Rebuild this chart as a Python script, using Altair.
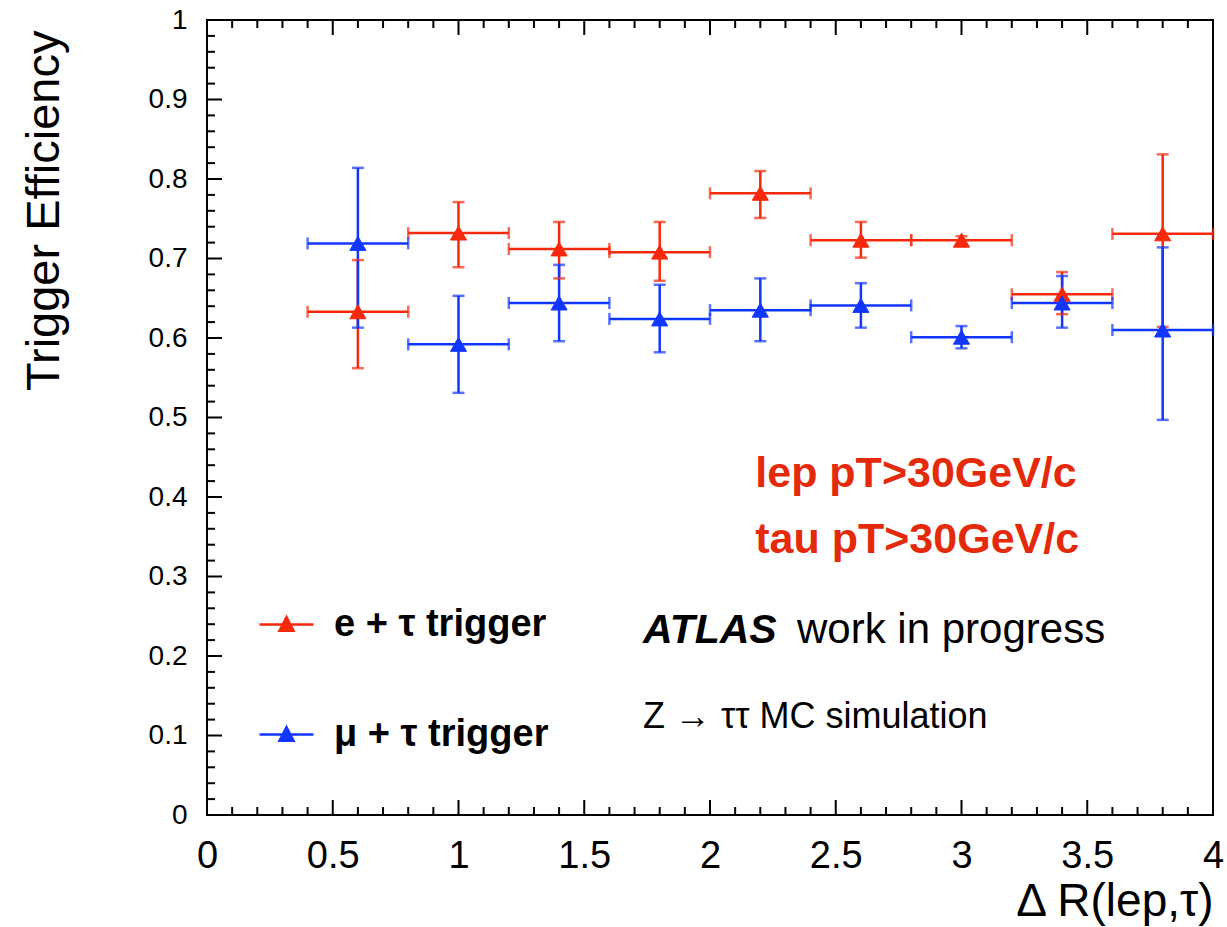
import altair as alt
import pandas as pd

# ---------------- data ----------------
series_names = ["e + τ trigger", "μ + τ trigger"]
bin_centers = [0.6, 1.0, 1.4, 1.8, 2.2, 2.6, 3.0, 3.4, 3.8]
bin_half = [0.2, 0.2, 0.2, 0.2, 0.2, 0.2, 0.2, 0.2, 0.2]

e_eff = [0.633, 0.732, 0.712, 0.708, 0.782, 0.723, 0.723, 0.655, 0.731]
e_hi = [0.698, 0.771, 0.746, 0.746, 0.810, 0.746, 0.728, 0.683, 0.831]
e_lo = [0.562, 0.689, 0.675, 0.672, 0.751, 0.701, 0.718, 0.630, 0.614]

mu_eff = [0.719, 0.592, 0.644, 0.624, 0.635, 0.641, 0.601, 0.644, 0.610]
mu_hi = [0.814, 0.653, 0.692, 0.667, 0.675, 0.669, 0.615, 0.678, 0.714]
mu_lo = [0.613, 0.531, 0.596, 0.582, 0.596, 0.613, 0.587, 0.613, 0.497]

x_tick_labels = [0, 0.5, 1, 1.5, 2, 2.5, 3, 3.5, 4]
y_tick_labels = [0, 0.1, 0.2, 0.3, 0.4, 0.5, 0.6, 0.7, 0.8, 0.9, 1]
x_minor = [v / 10 for v in range(0, 41) if v % 5 != 0]
y_minor = [v / 50 for v in range(0, 51) if v % 5 != 0]

annot_red = ["lep pT>30GeV/c", "tau pT>30GeV/c"]
annot_red_x = [2.18, 2.18]
annot_red_y = [0.4126, 0.3296]

RED = "#f7290c"
BLUE = "#1136ff"
TEXT_RED = "#e42a0a"
FONT = "Liberation Sans"

W, H = 1006, 795

# ---------------- tables ----------------
rows = []
for name, eff, hi, lo in [(series_names[0], e_eff, e_hi, e_lo),
                          (series_names[1], mu_eff, mu_hi, mu_lo)]:
    for c, h, v, vh, vl in zip(bin_centers, bin_half, eff, hi, lo):
        rows.append(dict(series=name, x=c, xlo=c - h, xhi=c + h, eff=v, hi=vh, lo=vl))
df = pd.DataFrame(rows)

capv = pd.concat([
    df[["series", "xlo", "eff"]].rename(columns={"xlo": "x"}),
    df[["series", "xhi", "eff"]].rename(columns={"xhi": "x"}),
])
caph = pd.concat([
    df[["series", "x", "hi"]].rename(columns={"hi": "eff"}),
    df[["series", "x", "lo"]].rename(columns={"lo": "eff"}),
])

xs = alt.Scale(domain=[0, 4], nice=False, zero=False)
ys = alt.Scale(domain=[0, 1], nice=False, zero=False)
cs = alt.Scale(domain=series_names, range=[RED, BLUE])

x_axis = alt.Axis(values=x_tick_labels, format="~g", ticks=False, domain=False, grid=False,
                  labelFont=FONT, labelFontSize=38, labelColor="black", labelPadding=22,
                  labelFlush=False, labelOverlap=False,
                  title="Δ R(lep,τ)", titleFont=FONT, titleFontSize=46, titleFontWeight="normal",
                  titleColor="black", titleX=W, titleY=100, titleAlign="right",
                  titleBaseline="alphabetic")
y_axis = alt.Axis(values=y_tick_labels, format="~g", ticks=False, domain=False, grid=False,
                  labelFont=FONT, labelFontSize=28, labelColor="black", labelPadding=20,
                  labelOverlap=False,
                  title="Trigger Efficiency", titleFont=FONT, titleFontSize=47,
                  titleFontWeight="normal", titleColor="black", titleX=-149, titleY=10,
                  titleAlign="right", titleBaseline="alphabetic")

X = lambda f: alt.X(f, type="quantitative", scale=xs, axis=x_axis, title="Δ R(lep,τ)")
Y = lambda f: alt.Y(f, type="quantitative", scale=ys, axis=y_axis, title="Trigger Efficiency")

SW = 2.5
LEG_PATH = "M-1,0H1M-0.26,0.23L0,-0.27L0.26,0.23Z"
leg = alt.Legend(title=None, orient="none", legendX=51, legendY=576, symbolType=LEG_PATH,
                 symbolSize=2916, symbolStrokeWidth=SW, symbolOpacity=1,
                 labelFont=FONT, labelFontSize=38, labelFontWeight="bold", labelColor="black",
                 labelOffset=19, labelLimit=500, rowPadding=62, padding=0)

STROKE = alt.Stroke("series:N", scale=cs, legend=leg)
FILL = alt.Fill("series:N", scale=cs, legend=leg)

hbar = alt.Chart(df).mark_rule(strokeWidth=SW).encode(
    x=X("xlo"), x2="xhi:Q", y=Y("eff"), stroke=STROKE)
vbar = alt.Chart(df).mark_rule(strokeWidth=SW).encode(
    x=X("x"), y=Y("lo"), y2="hi:Q", stroke=STROKE)
cap_v = alt.Chart(capv).mark_tick(orient="vertical", size=12, thickness=SW).encode(
    x=X("x"), y=Y("eff"), fill=FILL)
cap_h = alt.Chart(caph).mark_tick(orient="horizontal", size=12, thickness=SW).encode(
    x=X("x"), y=Y("eff"), fill=FILL)

pts = alt.Chart(df).mark_point(shape="triangle-up", filled=True, size=260, opacity=1,
                               strokeWidth=1).encode(
    x=X("x"), y=Y("eff"), fill=FILL, stroke=STROKE)

# inner ticks of the frame
def xticks(vals, length, top):
    d = pd.DataFrame({"x": vals})
    if top:
        yy, yy2 = alt.value(0), alt.value(length)
    else:
        yy, yy2 = alt.value(H), alt.value(H - length)
    return alt.Chart(d).mark_rule(color="black", strokeWidth=2).encode(x=X("x"), y=yy, y2=yy2)

def yticks(vals, length):
    d = pd.DataFrame({"eff": vals})
    return alt.Chart(d).mark_rule(color="black", strokeWidth=2).encode(
        y=Y("eff"), x=alt.value(0), x2=alt.value(length))

ticks = [xticks(x_tick_labels, 15, False), xticks(x_minor, 8, False),
         xticks(x_tick_labels, 15, True), xticks(x_minor, 8, True),
         yticks(y_tick_labels, 15), yticks(y_minor, 8)]

def text_layer(xv, yv, texts, **kw):
    d = pd.DataFrame({"x": xv, "eff": yv, "t": texts})
    return alt.Chart(d).mark_text(align="left", baseline="alphabetic", font=FONT, **kw).encode(
        x=X("x"), y=Y("eff"), text="t:N")

red_txt = text_layer(annot_red_x, annot_red_y, annot_red, fontSize=43, fontWeight="bold",
                     color=TEXT_RED)
atlas = text_layer([1.734], [0.216], ["ATLAS"], fontSize=41, fontWeight="bold",
                   fontStyle="italic", color="black")
wip = text_layer([2.346], [0.216], ["work in progress"], fontSize=42, color="black")
zsim = text_layer([1.734], [0.109], ["Z → ττ MC simulation"], fontSize=36, color="black")

chart = alt.layer(hbar, vbar, cap_v, cap_h, pts, *ticks, red_txt, atlas, wip, zsim).properties(
    width=W, height=H,
    padding={"left": 207, "top": 20, "right": 14, "bottom": 112},
    autosize=alt.AutoSizeParams(type="none"),
    background="white",
).configure_view(stroke="black", strokeWidth=2)

chart.save("out.html", embed_options={"renderer": "svg", "actions": False})
